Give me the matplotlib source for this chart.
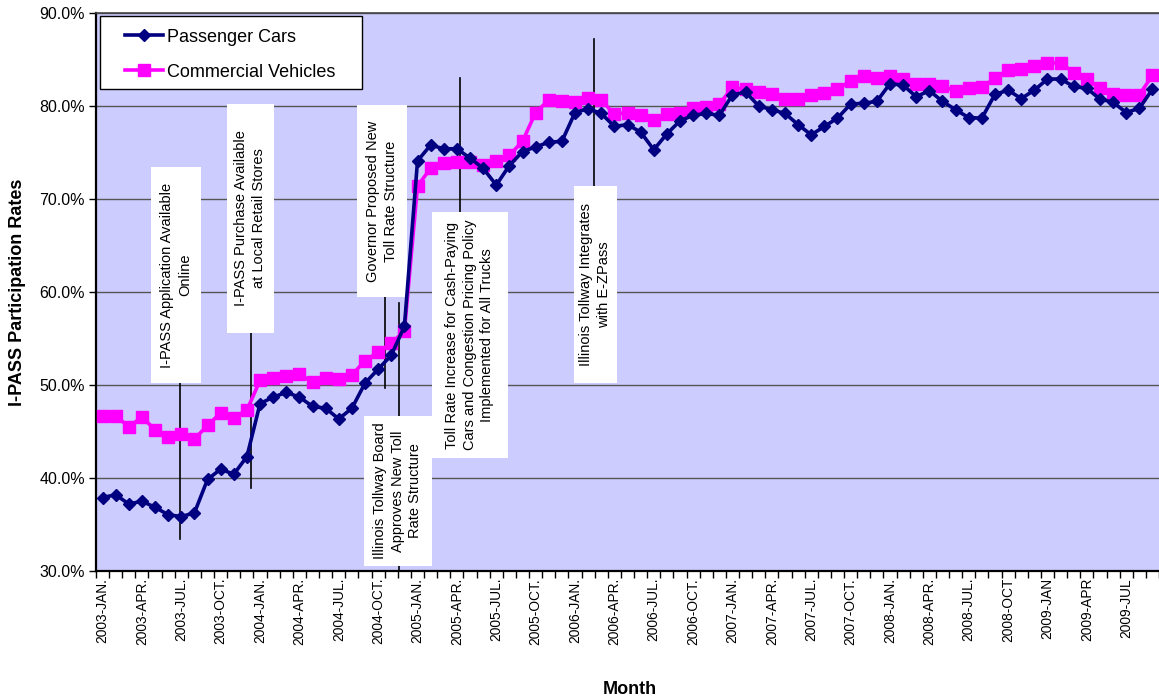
import matplotlib
matplotlib.use("Agg")
import matplotlib.pyplot as plt
from matplotlib.patches import Rectangle

plt.rcParams['font.family'] = ['Liberation Sans', 'DejaVu Sans']

tick_labels = ["2003-JAN.", "2003-APR.", "2003-JUL.", "2003-OCT.",
               "2004-JAN.", "2004-APR.", "2004-JUL.", "2004-OCT.",
               "2005-JAN.", "2005-APR.", "2005-JUL.", "2005-OCT.",
               "2006-JAN.", "2006-APR.", "2006-JUL.", "2006-OCT.",
               "2007-JAN.", "2007-APR.", "2007-JUL.", "2007-OCT.",
               "2008-JAN.", "2008-APR.", "2008-JUL.", "2008-OCT",
               "2009-JAN", "2009-APR", "2009-JUL"]

passenger_cars = [37.9, 38.2, 37.2, 37.5, 36.85, 36.05, 35.85, 36.25, 39.85, 40.95,
                  40.4, 42.3, 48.0, 48.7, 49.2, 48.7, 47.7, 47.5, 46.35, 47.5,
                  50.2, 51.7, 53.2, 56.3, 74.1, 75.8, 75.4, 75.4, 74.4, 73.3,
                  71.5, 73.6, 75.1, 75.6, 76.1, 76.2, 79.3, 79.7, 79.2, 77.8,
                  78.0, 77.2, 75.3, 77.0, 78.4, 79.0, 79.2, 79.0, 81.2, 81.5,
                  80.0, 79.6, 79.2, 78.0, 76.9, 77.8, 78.7, 80.2, 80.3, 80.5,
                  82.4, 82.25, 81.0, 81.65, 80.5, 79.6, 78.75, 78.7, 81.25, 81.7,
                  80.8, 81.7, 82.9, 82.9, 82.1, 81.9, 80.75, 80.4, 79.3, 79.75,
                  81.8]

commercial_vehicles = [46.7, 46.7, 45.5, 46.55, 45.2, 44.45, 44.7, 44.2, 45.65, 47.0,
                       46.5, 47.3, 50.5, 50.7, 51.0, 51.15, 50.3, 50.8, 50.65, 51.1,
                       52.6, 53.55, 54.5, 55.8, 71.4, 73.3, 73.9, 73.95, 74.0, 73.65,
                       74.1, 74.7, 76.2, 79.3, 80.65, 80.5, 80.4, 80.9, 80.65, 79.1,
                       79.3, 79.05, 78.5, 79.1, 79.2, 79.75, 79.9, 80.2, 82.0, 81.8,
                       81.5, 81.25, 80.8, 80.75, 81.2, 81.4, 81.8, 82.7, 83.2, 83.05,
                       83.2, 82.9, 82.4, 82.4, 82.15, 81.6, 81.95, 82.0, 83.0, 83.9,
                       84.0, 84.35, 84.6, 84.65, 83.6, 82.9, 81.9, 81.25, 81.2, 81.2,
                       83.3]

annotations = [
    "I-PASS Application Available\nOnline",
    "I-PASS Purchase Available\nat Local Retail Stores",
    "Governor Proposed New\nToll Rate Structure",
    "Illinois Tollway Board\nApproves New Toll\nRate Structure",
    "Toll Rate Increase for Cash-Paying\nCars and Congestion Pricing Policy\nImplemented for All Trucks",
    "Illinois Tollway Integrates\nwith E-ZPass",
]
# layout: (box x0, x1, y0, y1, line x, line y0, line y1)
ann_layout = [
    (3.71, 7.5, 50.22, 73.44, 5.9, 33.44, 50.22),
    (9.47, 13.03, 55.6, 80.2, 11.29, 38.9, 55.6),
    (19.39, 23.18, 59.46, 80.1, 21.5, 49.68, 59.46),
    (19.92, 25.08, 30.54, 46.67, 22.58, 30.0, 58.8),
    (25.08, 30.9, 42.15, 68.6, 27.2, 68.6, 83.0),
    (35.9, 39.17, 50.2, 71.4, 37.42, 71.4, 87.2),
]

W, H = 1159, 700
AX_L, AX_T, AX_B = 96, 13, 571
AW, AH = W - AX_L, AX_B - AX_T
fig = plt.figure(figsize=(W / 100, H / 100), dpi=100)
ax = fig.add_axes([AX_L / W, (H - AX_B) / H, AW / W, AH / H])
ax.set_facecolor('#CCCCFF')

n = len(passenger_cars)
xs = list(range(n))
ax.set_xlim(-0.5, 80.0)
ax.set_ylim(30, 90)

yt = [30, 40, 50, 60, 70, 80, 90]
ax.set_yticks(yt)
ax.set_yticklabels([f"{v:.1f}%" for v in yt], fontsize=11.5)
ax.yaxis.grid(True, color='#555555', linewidth=1.0)
ax.set_axisbelow(True)

ax.set_xticks(list(range(0, n, 3))[:len(tick_labels)])
ax.set_xticklabels(tick_labels, rotation=90, fontsize=9.9)
ax.set_xticks([i + 0.5 for i in range(-1, n)], minor=True)
ax.tick_params(axis='x', which='major', length=0, pad=5)
ax.tick_params(axis='x', which='minor', length=5, width=1, direction='out')
ax.tick_params(axis='y', which='major', length=5, width=1, direction='out', pad=3)

for s in ['left', 'bottom']:
    ax.spines[s].set_linewidth(1.6)
    ax.spines[s].set_color('black')
ax.spines['top'].set_color('#444444')
ax.spines['top'].set_linewidth(1.2)
ax.spines['right'].set_visible(False)

# annotation lines and boxes
for text, (bx0, bx1, by0, by1, lx, ly0, ly1) in zip(annotations, ann_layout):
    ax.plot([lx, lx], [ly0, ly1], color='black', linewidth=1.2, zorder=2)
for text, (bx0, bx1, by0, by1, lx, ly0, ly1) in zip(annotations, ann_layout):
    ax.add_patch(Rectangle((bx0, by0), bx1 - bx0, by1 - by0, facecolor='white',
                           edgecolor='none', zorder=3))
    ax.text((bx0 + bx1) / 2, (by0 + by1) / 2, text, rotation=90, ha='center',
            va='center', multialignment='center', fontsize=10.5, zorder=4,
            linespacing=1.32)

ax.plot(xs, passenger_cars, color='#000080', linewidth=2.6, marker='D',
        markersize=6.5, markerfacecolor='#000080', markeredgecolor='#000080',
        label='Passenger Cars', zorder=6, clip_on=False)
ax.plot(xs, commercial_vehicles, color='#FF00FF', linewidth=2.6, marker='s',
        markersize=8, markerfacecolor='#FF00FF', markeredgecolor='#FF00FF',
        label='Commercial Vehicles', zorder=5, clip_on=False)

# legend frame (pixel box 100-362 x 16-89)
ax.add_patch(Rectangle(((100 - AX_L) / AW, (AX_B - 89) / AH), 262 / AW, 73 / AH,
                       transform=ax.transAxes, facecolor='white', edgecolor='black',
                       linewidth=1.0, zorder=9))
leg = ax.legend(loc='upper left', bbox_to_anchor=((125 - AX_L) / AW, 1 - (28.5 - AX_T) / AH),
                borderaxespad=0, borderpad=0, fontsize=13, frameon=False,
                handlelength=2.1, handletextpad=0.2, labelspacing=1.0)
leg.set_zorder(10)

ax.set_ylabel("I-PASS Participation Rates", fontsize=13, fontweight='bold')
ax.yaxis.set_label_coords(-(AX_L - 26) / AW, 0.5)
ax.set_xlabel("Month", fontsize=13, fontweight='bold')
ax.xaxis.set_label_coords((630 - AX_L) / AW, -(681 - AX_B) / AH)

fig.savefig("out.png", dpi=100)
